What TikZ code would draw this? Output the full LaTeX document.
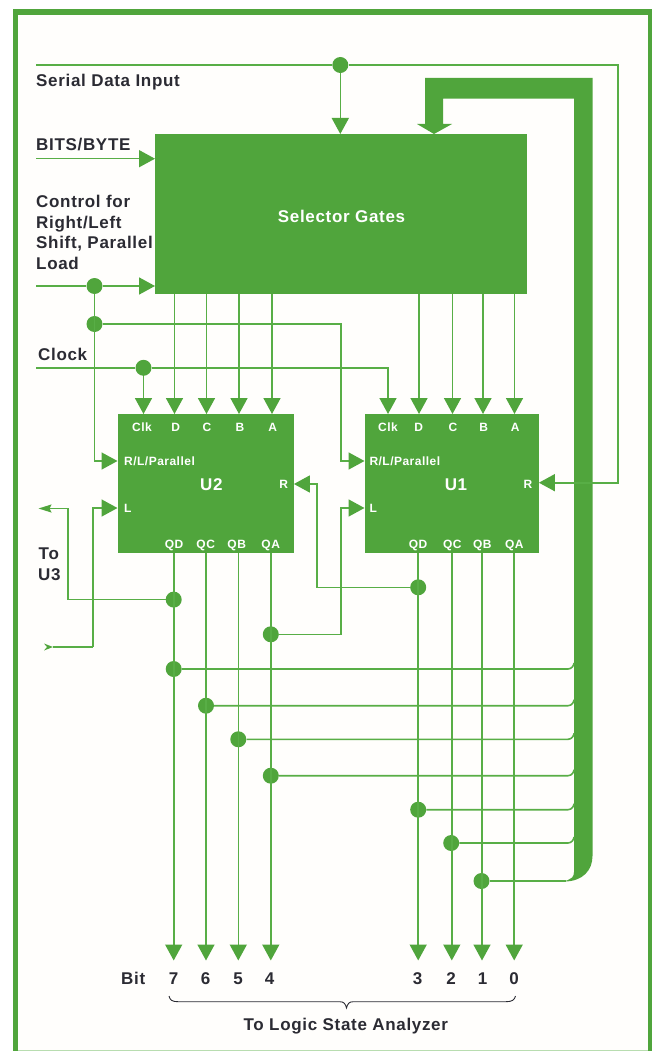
\documentclass[tikz,border=0pt]{standalone}
\usepackage{fontspec}
\setmainfont{Liberation Sans}[LetterSpace=4]
\usetikzlibrary{arrows.meta}
\definecolor{hpgreen}{HTML}{50A53C}
\definecolor{wiregreen}{HTML}{58AE46}
\definecolor{edgegreen}{HTML}{B8DDB0}
\definecolor{inkdark}{HTML}{2B2B33}
\definecolor{paper}{HTML}{FFFEFC}
\tikzset{
  x=1pt,y=-1pt,
  block/.style={fill=hpgreen,inner sep=0pt,anchor=north west,text=white},
  wire/.style={draw=wiregreen,line width=1.6pt},
  arr/.style={wire,-{Triangle[length=16pt,width=17pt,color=hpgreen]}},
  smallarr/.style={wire,-{Stealth[length=13pt,width=8pt,inset=2pt,color=hpgreen]}},
  junction/.style={circle,fill=hpgreen,inner sep=0pt,minimum size=16pt},
  biglabel/.style={inner sep=0pt,anchor=base west,text=inkdark,font=\fontsize{17}{20}\selectfont\bfseries},
  bigcentre/.style={biglabel,anchor=base},
  pinlabel/.style={inner sep=0pt,anchor=base,text=white,font=\fontsize{12}{14}\selectfont\bfseries},
  pinwest/.style={pinlabel,anchor=base west},
  unitlabel/.style={inner sep=0pt,anchor=base,text=white,font=\fontsize{17}{20}\selectfont\bfseries},
}
\newcommand{\branch}[1]{\draw[wire] (#1) -- (fil |- #1) .. controls +(4,0) and +(0,2) .. +(6,-6);}
\begin{document}
\begin{tikzpicture}
\useasboundingbox (0,0) rectangle (652,1051);
\fill[white] (0,0) rectangle (652,1051);
\fill[hpgreen] (13,9) rectangle (652,1051);
\fill[paper] (18,15) rectangle (648,1051);
\fill[edgegreen] (18,1049.5) rectangle (648,1051);

% blocks
\node[block,minimum width=372pt,minimum height=160pt] (sel) at (155,134) {};
\node[block,minimum width=176pt,minimum height=138.5pt] (u2) at (117.5,414) {};
\node[block,minimum width=174pt,minimum height=138.5pt] (u1) at (364.5,414) {};

% column coordinates
\coordinate (a2) at (174.5,0); \coordinate (b2) at (206.5,0); \coordinate (c2) at (239,0); \coordinate (e2) at (272,0);
\coordinate (a1) at (419,0); \coordinate (b1) at (452.5,0); \coordinate (c1) at (483,0); \coordinate (e1) at (514.5,0);
\coordinate (q7) at (173.7,0); \coordinate (q6) at (206,0); \coordinate (q5) at (238.3,0); \coordinate (q4) at (270.8,0);
\coordinate (q3) at (418.2,0); \coordinate (q2) at (451.8,0); \coordinate (q1) at (482,0); \coordinate (q0) at (514.2,0);
\coordinate (ctl) at (94.5,0); \coordinate (clkU2) at (143.5,0); \coordinate (clkU1) at (388,0);
\coordinate (colB) at (341,0); \coordinate (fil) at (568,0); \coordinate (serx) at (617.7,0);
\coordinate (botOut) at (0,960.5);

% free ends
\coordinate (serialIn) at (36,65);
\coordinate (bitsIn) at (36,158.7);
\coordinate (ctlIn) at (36,286);
\coordinate (clkIn) at (36,367.8);
\coordinate (toU3) at (38.5,508.5);
\coordinate (fromU3) at (53,647);

% bus
\fill[hpgreen] (574,98.7) -- (443,98.7) -- (443,124) -- (452,124) -- (434,134) -- (417,124) -- (425,124) -- (425,78) -- (592.5,78) -- (592.5,856)
  .. controls (592.5,870) and (583,881.5) .. (564,881.5) -- (568,880) .. controls (571,879) and (574,877) .. (574,872) -- cycle;

% junctions
\node[junction] (jSer) at (340.3,65) {};
\node[junction] (jCtl1) at (ctl |- ctlIn) {};
\node[junction] (jCtl2) at (94.5,324) {};
\node[junction] (jClk) at (clkU2 |- clkIn) {};
\node[junction] (j7a) at (173.7,599.6) {};
\node[junction] (j7b) at (173.7,669) {};
\node[junction] (j6) at (206,705.7) {};
\node[junction] (j5) at (238.3,739.3) {};
\node[junction] (j4a) at (270.8,634.3) {};
\node[junction] (j4b) at (270.8,775.7) {};
\node[junction] (j3a) at (418.2,587.3) {};
\node[junction] (j3b) at (418.2,809.7) {};
\node[junction] (j2) at (451.2,843) {};
\node[junction] (j1) at (481.5,881) {};

% serial input
\draw[wire] (serialIn) -- (jSer);
\draw[arr] (jSer) -- (jSer |- sel.north);
\draw[arr] (jSer) -- (serx |- jSer) -- (serx |- 0,482.7) -- (u1.east |- 0,482.7);

% selector inputs
\draw[arr] (bitsIn) -- (sel.west |- bitsIn);
\draw[wire] (ctlIn) -- (jCtl1);
\draw[arr] (jCtl1) -- (sel.west |- jCtl1);
\draw[arr] (jCtl1) -- (ctl |- 0,461) -- (u2.west |- 0,461);
\draw[arr] (jCtl2) -- (colB |- jCtl2) -- (colB |- 0,461) -- (u1.west |- 0,461);

% clock
\draw[wire] (clkIn) -- (jClk);
\draw[arr] (jClk) -- (jClk |- u2.north);
\draw[arr] (jClk) -- (clkU1 |- jClk) -- (clkU1 |- u1.north);

% data between blocks
\foreach \c in {a2,b2,c2,e2,a1,b1,c1,e1}{
  \draw[arr] (\c |- sel.south) -- (\c |- u2.north);
}

% outputs
\foreach \c in {q7,q6,q5,q4,q3,q2,q1,q0}{
  \draw[arr] (\c |- u2.south) -- (\c |- botOut);
}

% shift links
\draw[smallarr] (j7a) -- (67.7,599.6) -- (67.7,508.5) -- (toU3);
\draw[arr] (j3a) -- (316.7,587.3) -- (316.7,484) -- (u2.east |- 0,484);
\draw[arr] (j4a) -- (colB |- j4a) -- (colB |- 0,508) -- (u1.west |- 0,508);
\draw[wire] (fromU3) -- (92.7,647);
\draw[arr] (92.7,647) -- (92.7,508) -- (u2.west |- 0,508);
\fill[hpgreen] (fromU3) -- (44,643.5) -- (47,647) -- (44,650.5) -- cycle;

% bus branches
\branch{j7b}\branch{j6}\branch{j5}\branch{j4b}\branch{j3b}\branch{j2}
\draw[wire] (j1) -- (566,881);

% labels
\node[biglabel] (tSer) at (36,87) {Serial Data Input};
\node[biglabel] (tBits) at (36,151) {BITS/BYTE};
\node[biglabel] (tC1) at (36,207) {Control for};
\node[biglabel] (tC2) at (36,228) {Right/Left};
\node[biglabel] (tC3) at (36,248.5) {Shift, Parallel};
\node[biglabel] (tC4) at (36,269) {Load};
\node[biglabel] (tClk) at (38,360.5) {Clock};
\node[biglabel] (tTo) at (38.5,559.5) {To};
\node[biglabel] (tU3) at (38,580) {U3};
\node[unitlabel,anchor=base] (tSel) at (341.5,222.7) {Selector Gates};
\node[unitlabel] (tU2) at (211.3,490.7) {U2};
\node[unitlabel] (tU1) at (456,490.7) {U1};

\node[pinlabel] (p2k) at (142,431.7) {Clk};
\node[pinlabel] (p2d) at (175.7,431.7) {D};
\node[pinlabel] (p2c) at (207,431.7) {C};
\node[pinlabel] (p2b) at (240,431.7) {B};
\node[pinlabel] (p2a) at (272.7,431.7) {A};
\node[pinlabel] (p1k) at (388,431.7) {Clk};
\node[pinlabel] (p1d) at (418.7,431.7) {D};
\node[pinlabel] (p1c) at (453,431.7) {C};
\node[pinlabel] (p1b) at (483.7,431.7) {B};
\node[pinlabel] (p1a) at (515.3,431.7) {A};
\node[pinwest] (p2rl) at (124,465) {R/L/Parallel};
\node[pinwest] (p1rl) at (369.3,465) {R/L/Parallel};
\node[pinwest] (p2l) at (124,512.3) {L};
\node[pinwest] (p1l) at (369.5,512.3) {L};
\node[pinlabel] (p2r) at (283.7,488.3) {R};
\node[pinlabel] (p1r) at (528,488.3) {R};
\node[pinlabel] (p2qd) at (174,548.3) {QD};
\node[pinlabel] (p2qc) at (205.7,548.3) {QC};
\node[pinlabel] (p2qb) at (236.7,548.3) {QB};
\node[pinlabel] (p2qa) at (270.7,548.3) {QA};
\node[pinlabel] (p1qd) at (418,548.3) {QD};
\node[pinlabel] (p1qc) at (452.3,548.3) {QC};
\node[pinlabel] (p1qb) at (482.3,548.3) {QB};
\node[pinlabel] (p1qa) at (514.3,548.3) {QA};

\node[biglabel] (tBit) at (121,984.5) {Bit};
\node[bigcentre] (b7) at (173.6,984.5) {7};
\node[bigcentre] (b6) at (205.6,984.5) {6};
\node[bigcentre] (b5) at (238,984.5) {5};
\node[bigcentre] (b4) at (269.7,984.5) {4};
\node[bigcentre] (b3) at (417.6,984.5) {3};
\node[bigcentre] (b2t) at (451,984.5) {2};
\node[bigcentre] (b1t) at (482.7,984.5) {1};
\node[bigcentre] (b0) at (514,984.5) {0};
\node[bigcentre] (tLSA) at (345.8,1030) {To Logic State Analyzer};

% brace
\draw[inkdark,line width=0.9pt] (169,996) .. controls (170,1000) and (172,1001.7) .. (178,1001.7) -- (340,1001.7)
  .. controls (344,1001.7) and (345.5,1004) .. (346.5,1008) .. controls (347.5,1004) and (349,1001.7) .. (353,1001.7) -- (506,1001.7)
  .. controls (512,1001.7) and (514.5,1000) .. (515.5,996);
\end{tikzpicture}
\end{document}
